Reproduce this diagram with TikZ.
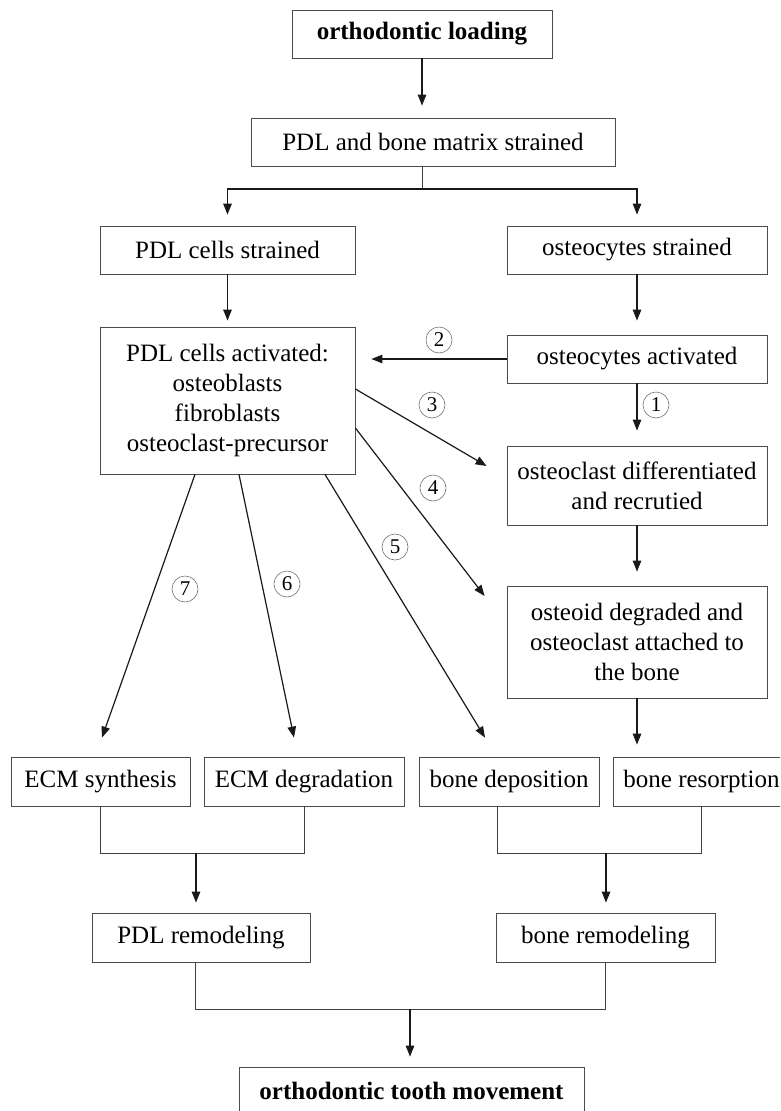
\documentclass[tikz,border=0pt]{standalone}
\usepackage{fontspec}
\setmainfont{Liberation Serif}
\usetikzlibrary{arrows.meta,calc}
\begin{document}
\begin{tikzpicture}[x=1pt,y=-1pt,
  box/.style={draw=black!70, line width=0.8pt, inner sep=0pt, align=center, font=\fontsize{25}{30}\selectfont},
  bbox/.style={box, font=\fontsize{25}{30}\selectfont\bfseries},
  arr/.style={draw=black!90, line width=1.2pt, -{Triangle[length=11pt,width=8.5pt]}},
  ln/.style={draw=black!75, line width=0.9pt},
  num/.style={circle, draw=black!55, line width=0.6pt, inner sep=0pt, minimum size=26pt, font=\fontsize{21}{21}\selectfont}]
\useasboundingbox (0,0) rectangle (780,1111);
\clip (0,0) rectangle (780,1111);
% boxes
\node[bbox, minimum width=260pt, minimum height=48pt] (b1) at (422,34) {orthodontic loading};
\node[box, minimum width=364pt, minimum height=48pt] (b2) at (433,142) {PDL and bone matrix strained};
\node[box, minimum width=255pt, minimum height=48pt] (b3) at (227.5,250) {PDL cells strained};
\node[box, minimum width=260pt, minimum height=48pt] (b4) at (637,250) {osteocytes strained};
\node[box, minimum width=255pt, minimum height=147pt] (b5) at (227.5,400.5) {PDL cells activated:\\osteoblasts\\fibroblasts\\osteoclast-precursor};
\node[box, minimum width=260pt, minimum height=48pt] (b6) at (637,359) {osteocytes activated};
\node[box, minimum width=260pt, minimum height=79pt] (b7) at (637,485.5) {osteoclast differentiated\\and recrutied};
\node[box, minimum width=260pt, minimum height=112pt] (b8) at (637,642) {osteoid degraded and\\osteoclast attached to\\the bone};
\node[box, minimum width=179pt, minimum height=49pt] (e1) at (100.5,781.5) {ECM synthesis};
\node[box, minimum width=200pt, minimum height=49pt] (e2) at (304,781.5) {ECM degradation};
\node[box, minimum width=180pt, minimum height=49pt] (e3) at (509,781.5) {bone deposition};
\node[box, minimum width=177pt, minimum height=49pt] (e4) at (701.5,781.5) {bone resorption};
\node[box, minimum width=218pt, minimum height=49pt] (r1) at (201,937.5) {PDL remodeling};
\node[box, minimum width=219pt, minimum height=49pt] (r2) at (605.5,937.5) {bone remodeling};
\node[bbox, minimum width=345pt, minimum height=48pt] (fin) at (411.5,1091) {orthodontic tooth movement};
% numbered labels
\node[num] (n1) at (656,405) {1};
\node[num] (n2) at (439,340) {2};
\node[num] (n3) at (432,405) {3};
\node[num] (n4) at (433,488) {4};
\node[num] (n5) at (395,547) {5};
\node[num] (n6) at (287,584) {6};
\node[num] (n7) at (185,589) {7};
% connectors
\draw[arr, shorten >=12pt] (b1.south) -- (b1.south |- b2.north);
\coordinate (split) at (422,189);
\draw[ln] (b1.south |- b2.south) -- (split);
\draw[arr, shorten >=11pt] (split) -| (b3.north);
\draw[arr, shorten >=11pt] (split) -| (b4.north);
\draw[arr, shorten >=6pt] (b3.south) -- (b5.north);
\draw[arr, shorten >=14pt] (b4.south) -- (b6.north);
\draw[arr, shorten >=16pt] (b6.west) -- (b6.west -| b5.east);
\draw[arr, shorten >=15pt] (b6.south) -- (b7.north);
\draw[arr] ([yshift=11.5pt]b5.east) -- ([xshift=-20pt,yshift=19.5pt]b7.west);
\draw[arr] ([yshift=-27.5pt]b5.east) -- ([xshift=-22pt,yshift=46pt]b8.west);
\draw[arr] ([xshift=97.5pt]b5.south) -- ([xshift=-24pt,yshift=19pt]e3.north);
\draw[arr] ([xshift=11.5pt]b5.south) -- ([xshift=-10pt,yshift=19pt]e2.north);
\draw[arr] ([xshift=-32.5pt]b5.south) -- ([xshift=1.5pt,yshift=19pt]e1.north);
\draw[arr, shorten >=14pt] (b7.south) -- (b8.north);
\draw[arr, shorten >=12pt] (b8.south) -- (b8.south |- e4.north);
% ECM -> PDL remodeling
\coordinate (j1) at (196,853);
\draw[ln] ([xshift=-0.5pt]e1.south) |- (j1) -| (e2.south);
\draw[arr, shorten >=10pt] (j1) -- (j1 |- r1.north);
% bone -> bone remodeling
\coordinate (j2) at (606,853);
\draw[ln] ([xshift=-12pt]e3.south) |- (j2) -| ([xshift=-0.5pt]e4.south);
\draw[arr, shorten >=10pt] (j2) -- (j2 |- r2.north);
% remodeling -> tooth movement
\coordinate (j3) at (410,1009);
\draw[ln] ([xshift=-6pt]r1.south) |- (j3) -| (r2.south);
\draw[arr, shorten >=10pt] (j3) -- (j3 |- fin.north);
\end{tikzpicture}
\end{document}
